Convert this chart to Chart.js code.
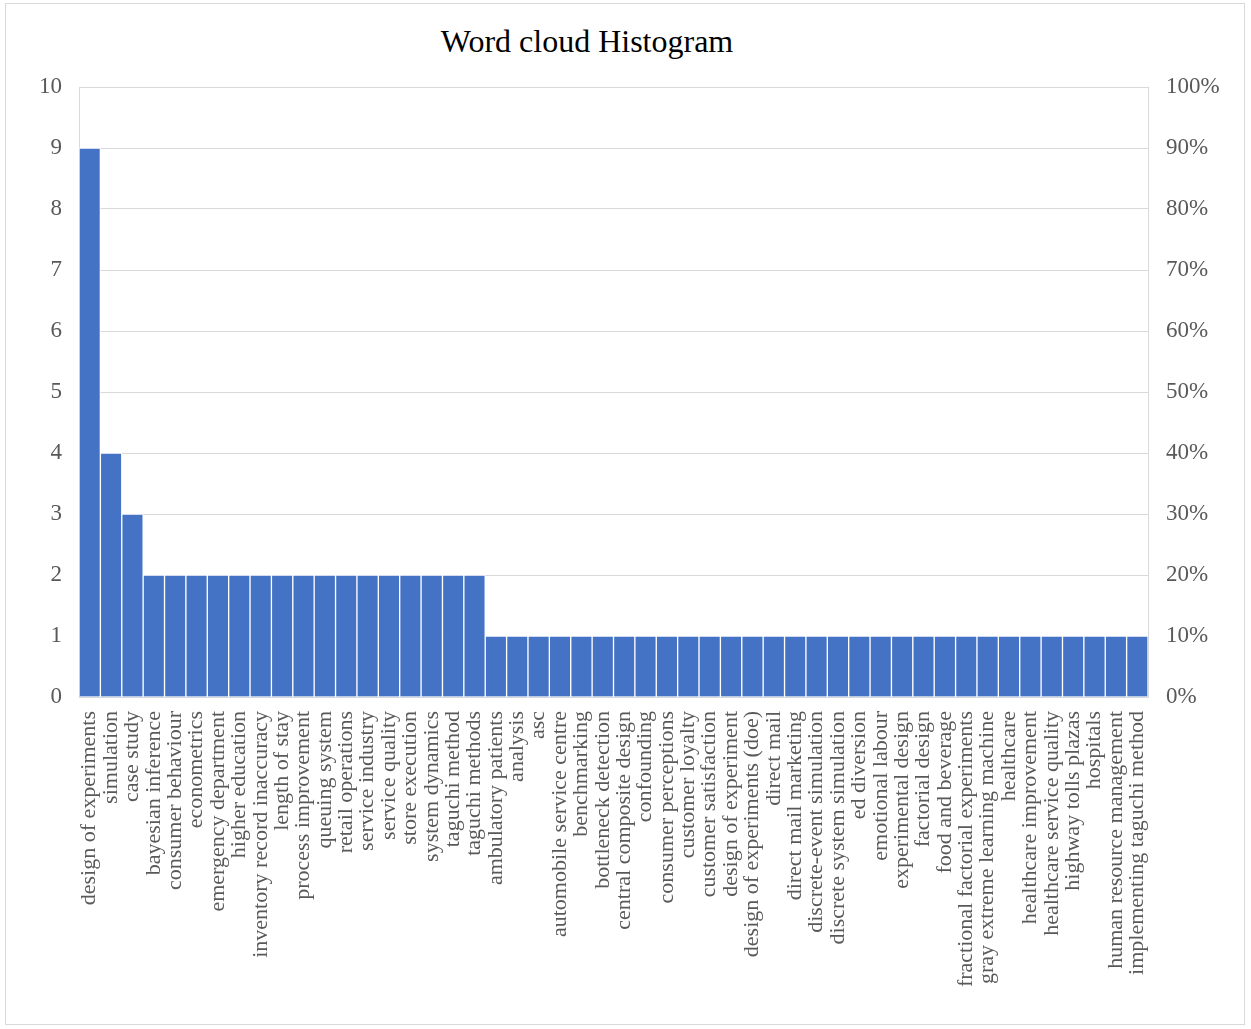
<!DOCTYPE html>
<html>
<head>
<meta charset="utf-8">
<script src="https://cdn.jsdelivr.net/npm/chart.js@4.4.1/dist/chart.umd.min.js"></script>
<style>
  body { margin: 0; background: #fff; }
  #frame { position: absolute; left: 5px; top: 3px; width: 1238px; height: 1020px; border: 1px solid #d9d9d9; }
  #title { position: absolute; left: 0; top: 25px; width: 1174px; text-align: center;
           font: 32px "Liberation Serif", "Times New Roman", serif; line-height: 32px; color: #000; }
  #wrap { position: absolute; left: 0; top: 0; width: 1251px; height: 1029px; }
</style>
</head>
<body>
<div id="frame"></div>
<div id="title">Word cloud Histogram</div>
<div id="wrap"><canvas id="chart"></canvas></div>
<script>
  // keywords and how often they appear
  var keywords = [
    "design of experiments", "simulation", "case study", "bayesian inference",
    "consumer behaviour", "econometrics", "emergency department", "higher education",
    "inventory record inaccuracy", "length of stay", "process improvement", "queuing system",
    "retail operations", "service industry", "service quality", "store execution",
    "system dynamics", "taguchi method", "taguchi methods", "ambulatory patients",
    "analysis", "asc", "automobile service centre", "benchmarking",
    "bottleneck detection", "central composite design", "confounding", "consumer perceptions",
    "customer loyalty", "customer satisfaction", "design of experiment", "design of experiments (doe)",
    "direct mail", "direct mail marketing", "discrete-event simulation", "discrete system simulation",
    "ed diversion", "emotional labour", "experimental design", "factorial design",
    "food and beverage", "fractional factorial experiments", "gray extreme learning machine", "healthcare",
    "healthcare improvement", "healthcare service quality", "highway tolls plazas", "hospitals",
    "human resource management", "implementing taguchi method"
  ];
  var counts = [
    9, 4, 3, 2, 2, 2, 2, 2, 2, 2, 2, 2, 2, 2, 2, 2, 2, 2, 2,
    1, 1, 1, 1, 1, 1, 1, 1, 1, 1, 1, 1, 1, 1, 1, 1, 1, 1, 1, 1, 1,
    1, 1, 1, 1, 1, 1, 1, 1, 1, 1
  ];
  var pctTicks = [0, 10, 20, 30, 40, 50, 60, 70, 80, 90, 100];

  var serif = '"Liberation Serif", "Times New Roman", serif';
  var gray = "#595959";
  var line = "#d9d9d9";

  var chart = new Chart("chart", {
    type: "bar",
    data: {
      labels: keywords,
      datasets: [{
        data: counts,
        backgroundColor: "#4472c4",
        borderColor: "#ffffff",
        borderWidth: 1,
        categoryPercentage: 1.0,
        barPercentage: 1.0,
        yAxisID: "y"
      }]
    },
    options: {
      responsive: true,
      maintainAspectRatio: false,
      animation: false,
      layout: { padding: { top: 87, left: 0, right: 0, bottom: 0 } },
      plugins: {
        legend: { display: false },
        title: { display: false },
        tooltip: { enabled: false }
      },
      scales: {
        x: {
          grid: { display: false, drawTicks: false },
          border: { display: false },
          ticks: {
            autoSkip: false, minRotation: 90, maxRotation: 90,
            padding: 14, color: gray,
            font: { family: serif, size: 22 }
          },
          afterFit: function(s) { s.height = 332; }
        },
        y: {
          position: "left",
          min: 0, max: 10,
          grid: { color: line, drawTicks: false },
          border: { display: true, color: line },
          ticks: { stepSize: 1, padding: 17, color: gray, font: { family: serif, size: 23 } },
          afterFit: function(s) { s.width = 79; }
        },
        y2: {
          position: "right",
          min: 0, max: 100,
          grid: { display: false, drawTicks: false },
          border: { display: true, color: line },
          afterBuildTicks: function(s) { s.ticks = pctTicks.map(function(v) { return { value: v }; }); },
          ticks: {
            padding: 18, color: gray, font: { family: serif, size: 23 },
            callback: function(v) { return v + "%"; }
          },
          afterFit: function(s) { s.width = 103; }
        }
      }
    }
  });
</script>
</body>
</html>
